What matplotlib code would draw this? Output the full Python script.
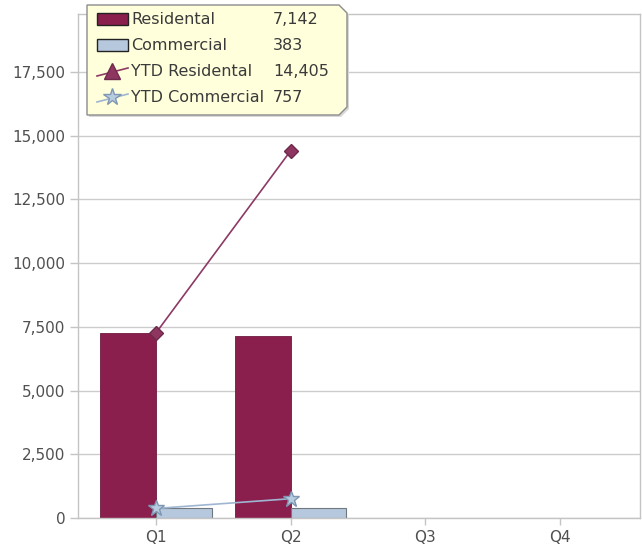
import matplotlib
matplotlib.use("Agg")
import matplotlib.pyplot as plt
from matplotlib.patches import Polygon
from matplotlib.lines import Line2D
from matplotlib.patches import Rectangle
import numpy as np

quarters = ["Q1", "Q2", "Q3", "Q4"]
residential = [7263, 7142, np.nan, np.nan]
commercial = [374, 383, np.nan, np.nan]
ytd_residential = [7263, 14405, np.nan, np.nan]
ytd_commercial = [374, 757, np.nan, np.nan]
legend_names = ["Residental", "Commercial", "YTD Residental", "YTD Commercial"]
legend_values = ["7,142", "383", "14,405", "757"]
yticks = [0, 2500, 5000, 7500, 10000, 12500, 15000, 17500]

RES_C = "#8a1f4e"
COM_C = "#b6c8de"
RES_LINE = "#8c3a64"
COM_LINE = "#9fb6d2"
GRID = "#cccccc"

plt.rcParams["font.family"] = ["DejaVu Sans"]

W, H = 642, 549
fig = plt.figure(figsize=(W / 100, H / 100), dpi=100)
ax = fig.add_axes([78 / W, 1 - 518 / H, (640 - 78) / W, (518 - 14) / H])

x = np.arange(len(quarters))
bw = 0.416
ax.bar(x - bw / 2, residential, width=bw, color=RES_C, edgecolor="#6e1a3f", linewidth=0.6, zorder=2)
ax.bar(x + bw / 2, commercial, width=bw, color=COM_C, edgecolor="#707880", linewidth=0.8, zorder=2)
ax.plot(x, ytd_residential, color=RES_LINE, linewidth=1.2, marker="D", markersize=7.5,
        markerfacecolor="#8e3560", markeredgecolor="#6e2a4a", zorder=3)
ax.plot(x, ytd_commercial, color=COM_LINE, linewidth=1.2, marker="*", markersize=12,
        markerfacecolor="#b8cce0", markeredgecolor="#7f97b3", zorder=3)

ax.set_xlim(-0.58, 3.598)
ax.set_ylim(0, 19776)
ax.set_xticks(x)
ax.set_xticklabels(quarters)
ax.set_yticks(yticks)
ax.set_yticklabels([f"{v:,}" for v in yticks])
ax.yaxis.grid(True, color=GRID, linewidth=1, zorder=0)
ax.set_axisbelow(True)
for s in ax.spines.values():
    s.set_color("#c4c4c4")
    s.set_linewidth(1)
ax.tick_params(axis="both", colors="#c4c4c4", labelcolor="#505050", labelsize=11, length=6, width=1)
ax.tick_params(axis="x", length=5, pad=4)
ax.tick_params(axis="y", pad=3)

# legend box (tooltip style with chamfered corners)
def fx(px):
    return px / W

def fy(py):
    return 1 - py / H

c = 8
box = [(87, 5), (347 - c, 5), (347, 5 + c), (347, 115 - c), (347 - c, 115), (87, 115)]
shadow = [(px + 2, py + 2) for px, py in box]
fig.patches.append(Polygon([(fx(a), fy(b)) for a, b in shadow], closed=True,
                           transform=fig.transFigure, facecolor="#d8d8d8", edgecolor="none", zorder=4))
fig.patches.append(Polygon([(fx(a), fy(b)) for a, b in box], closed=True,
                           transform=fig.transFigure, facecolor="#ffffdc", edgecolor="#8c8c8c",
                           linewidth=1, zorder=5))

rows_y = [19, 45, 71, 97]
# handles
fig.patches.append(Rectangle((fx(97), fy(25)), (128 - 97) / W, 12 / H, transform=fig.transFigure,
                             facecolor=RES_C, edgecolor="#222222", linewidth=1, zorder=6))
fig.patches.append(Rectangle((fx(97), fy(51)), (128 - 97) / W, 12 / H, transform=fig.transFigure,
                             facecolor=COM_C, edgecolor="#222222", linewidth=1, zorder=6))
fig.add_artist(Line2D([fx(97), fx(128)], [fy(rows_y[2] + 5), fy(rows_y[2] - 3)], transform=fig.transFigure,
                      color=RES_LINE, linewidth=1.2, zorder=6))
fig.add_artist(Line2D([fx(112)], [fy(rows_y[2])], transform=fig.transFigure, marker="^", markersize=11,
                      markerfacecolor="#8e3560", markeredgecolor="#6e2a4a", zorder=7))
fig.add_artist(Line2D([fx(97), fx(128)], [fy(rows_y[3] + 5), fy(rows_y[3] - 3)], transform=fig.transFigure,
                      color=COM_LINE, linewidth=1.2, zorder=6))
fig.add_artist(Line2D([fx(112)], [fy(rows_y[3])], transform=fig.transFigure, marker="*", markersize=13,
                      markerfacecolor="#b8cce0", markeredgecolor="#7f97b3", zorder=7))

for name, val, ry in zip(legend_names, legend_values, rows_y):
    fig.text(fx(131), fy(ry), name, fontsize=11.5, color="#3a3a3a", va="center", ha="left", zorder=8)
    fig.text(fx(273), fy(ry), val, fontsize=11.5, color="#3a3a3a", va="center", ha="left", zorder=8)

fig.savefig("out.png", dpi=100)
